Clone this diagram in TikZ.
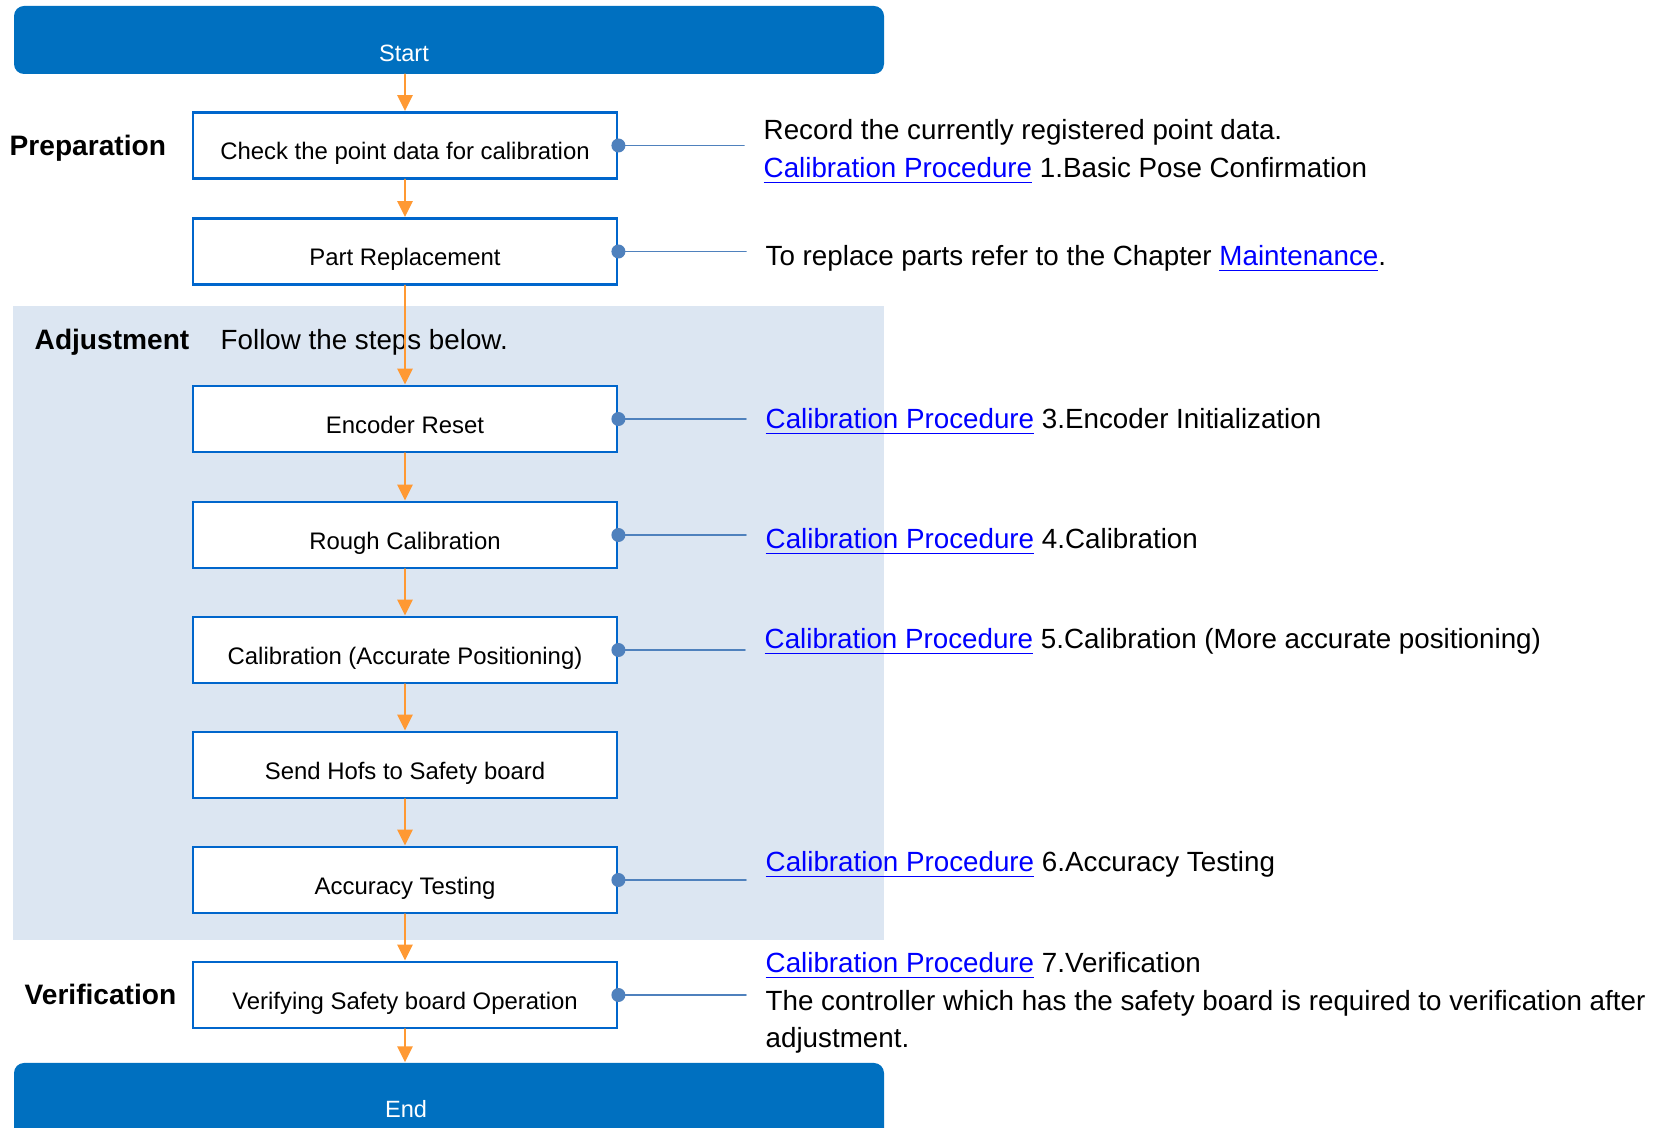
\documentclass[tikz,border=0pt]{standalone}
\usepackage{fontspec}
\setmainfont{Liberation Sans}
\usepackage{tikz}
\usetikzlibrary{arrows.meta}
\usepackage{xcolor}
\definecolor{barblue}{RGB}{0,112,192}
\definecolor{boxblue}{RGB}{0,102,204}
\definecolor{flowarrow}{RGB}{255,153,51}
\definecolor{dotblue}{RGB}{79,129,189}
\definecolor{adjbg}{RGB}{220,230,242}
\definecolor{linkblue}{RGB}{0,0,255}
\newcommand{\lnk}[1]{\textcolor{linkblue}{\underline{#1}}}
\newcommand{\notesize}{\fontsize{7.9}{10.7}\selectfont}

\begin{document}
\begin{tikzpicture}[>={Triangle[length=1.6mm,width=1.5mm]},line cap=round,
  stepbox/.style={draw=boxblue,line width=0.8pt,fill=white,minimum width=4.24cm,minimum height=0.66cm,inner sep=0pt,font=\fontsize{6.8}{8}\selectfont,text height=8pt,text depth=0pt},
  termbar/.style={fill=barblue,rounded corners=0.1cm,minimum width=8.70cm,inner sep=0pt},
  termtext/.style={text=white,inner sep=0pt,font=\fontsize{6.7}{8}\selectfont},
  flow/.style={->,draw=flowarrow,fill=flowarrow,line width=0.85pt},
  tie/.style={draw=dotblue,line width=0.5pt},
  note/.style={anchor=west,inner sep=0pt,align=left,font=\notesize},
  phase/.style={anchor=west,inner sep=0pt,font=\fontsize{8}{10}\selectfont\bfseries}]
\useasboundingbox (0,0) rectangle (16.70,11.28);
\fill[adjbg] (0.13,1.88) rectangle (8.84,8.22);
\node[termbar,minimum height=0.68cm] (startbar) at (4.49,10.88) {};
\node[termbar,minimum height=0.80cm] (endbar) at (4.49,0.25) {};
\node[termtext] (startlbl) at (4.04,10.75) {Start};
\node[termtext] (endlbl) at (4.06,0.19) {End};
\node[phase] (prep) at (0.09,9.80) {Preparation};
\node[phase] (adj) at (0.34,7.855) {Adjustment};
\node[note] (follow) at (2.20,7.855) {Follow the steps below.};
\node[phase] (verif) at (0.24,1.34) {Verification};
\node[stepbox] (chk) at (4.05,9.825) {Check the point data for calibration};
\node[stepbox] (part) at (4.05,8.765) {Part Replacement};
\node[stepbox] (enc) at (4.05,7.09) {Encoder Reset};
\node[stepbox] (rough) at (4.05,5.93) {Rough Calibration};
\node[stepbox] (accpos) at (4.05,4.78) {Calibration (Accurate Positioning)};
\node[stepbox] (hofs) at (4.05,3.63) {Send Hofs to Safety board};
\node[stepbox] (acctest) at (4.05,2.48) {Accuracy Testing};
\node[stepbox] (verify) at (4.05,1.33) {Verifying Safety board Operation};
\node[note] (note1) at (7.63,9.76) {Record the currently registered point data.\\\lnk{Calibration Procedure} 1.Basic Pose Confirmation};
\node[note] (note2) at (7.65,8.69) {To replace parts refer to the Chapter \lnk{Maintenance}.};
\node[note] (note3) at (7.65,7.06) {\lnk{Calibration Procedure} 3.Encoder Initialization};
\node[note] (note4) at (7.65,5.86) {\lnk{Calibration Procedure} 4.Calibration};
\node[note] (note5) at (7.64,4.86) {\lnk{Calibration Procedure} 5.Calibration (More accurate positioning)};
\node[note] (note6) at (7.65,2.63) {\lnk{Calibration Procedure} 6.Accuracy Testing};
\node[note] (note7) at (7.65,1.25) {\lnk{Calibration Procedure} 7.Verification\\The controller which has the safety board is required to verification after\\adjustment.};
\draw[flow] (startbar.south -| chk.north) -- (chk.north);
\foreach \a/\b in {chk/part,part/enc,enc/rough,rough/accpos,accpos/hofs,hofs/acctest,acctest/verify}
  \draw[flow] (\a.south) -- (\b.north);
\draw[flow] (verify.south) -- (verify.south |- endbar.north);
\foreach \b/\n in {chk/note1,part/note2,enc/note3,rough/note4,accpos/note5,acctest/note6,verify/note7} {
  \draw[tie] (\b.east) -- ([xshift=-1.9mm]\b.east -| \n.west);
  \fill[dotblue] (\b.east) circle (0.07);
}
\end{tikzpicture}
\end{document}
